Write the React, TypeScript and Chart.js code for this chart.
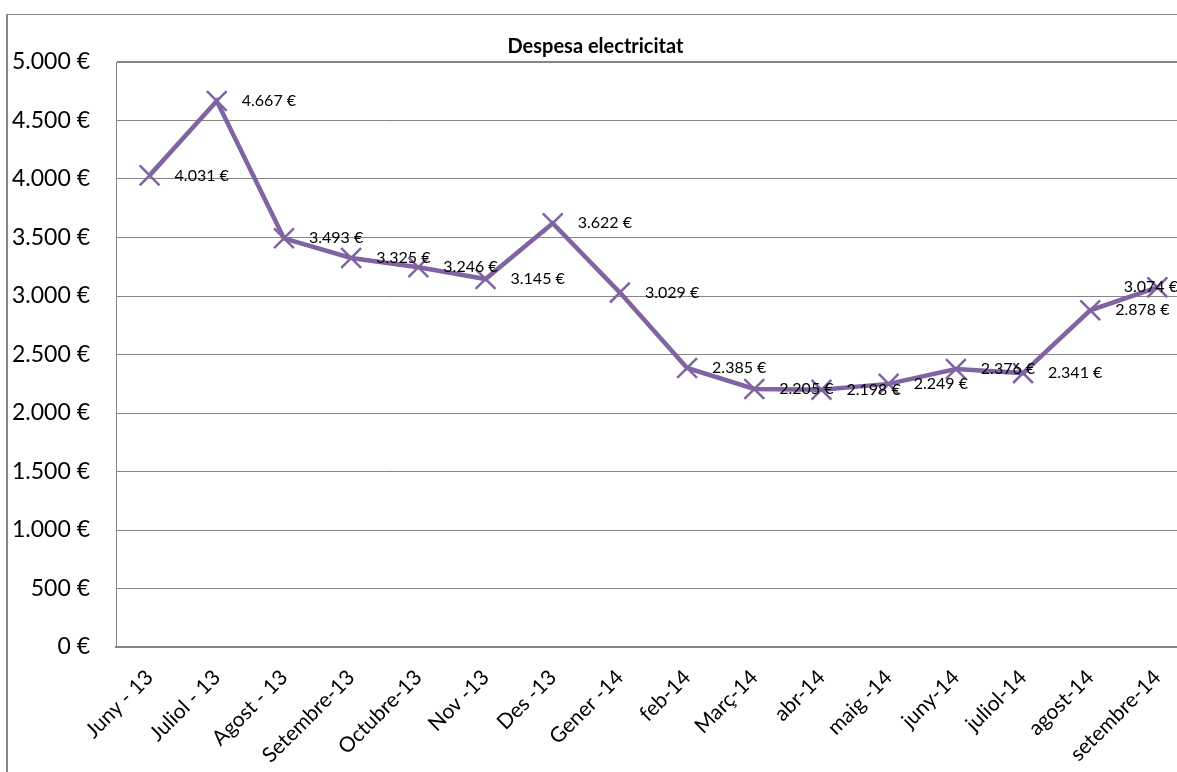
import React, { useEffect, useRef } from "react";
import { Chart, registerables } from "chart.js";

Chart.register(...registerables);

const title = "Despesa electricitat";
const categories = [
  "Juny - 13", "Juliol - 13", "Agost - 13", "Setembre-13", "Octubre-13", "Nov -13",
  "Des -13", "Gener -14", "feb-14", "Març-14", "abr-14", "maig -14",
  "juny-14", "juliol-14", "agost-14", "setembre-14",
];
const values = [4031, 4667, 3493, 3325, 3246, 3145, 3622, 3029, 2385, 2205, 2198, 2249, 2376, 2341, 2878, 3074];
const yMin = 0;
const yMax = 5000;
const yStep = 500;

const fmt = (v: number) => {
  const s = Math.round(v).toString().replace(/\B(?=(\d{3})+(?!\d))/g, ".");
  return s + " €";
};

const GRID = "#868686";
const LINE = "#8064A2";
const FONT = "Lato, 'Open Sans', sans-serif";

const frame = {
  id: "frame",
  beforeDraw(chart: any) {
    const ctx = chart.ctx;
    ctx.save();
    ctx.fillStyle = "#ffffff";
    ctx.fillRect(0, 0, chart.width, chart.height);
    ctx.fillStyle = GRID;
    ctx.fillRect(6, 14, 2, chart.height - 14);
    ctx.fillRect(6, 14, chart.width - 6, 1);
    ctx.restore();
  },
};

const dataLabels = {
  id: "dataLabels",
  afterDatasetsDraw(chart: any) {
    const ctx = chart.ctx;
    const meta = chart.getDatasetMeta(0);
    ctx.save();
    ctx.font = "16px " + FONT;
    ctx.fillStyle = "#000";
    ctx.textBaseline = "middle";
    ctx.textAlign = "left";
    const limit = 1178;
    meta.data.forEach((pt: any, i: number) => {
      const txt = fmt(values[i]);
      const w = ctx.measureText(txt).width;
      let x = pt.x + 25;
      if (x + w > limit) x = limit - w;
      ctx.fillText(txt, x, pt.y);
    });
    ctx.restore();
  },
};

export default function App() {
  const ref = useRef<HTMLCanvasElement | null>(null);
  useEffect(() => {
    if (!ref.current) return;
    const chart = new Chart(ref.current, {
      type: "line",
      data: {
        labels: categories,
        datasets: [
          {
            data: values,
            borderColor: LINE,
            backgroundColor: LINE,
            borderWidth: 4.5,
            pointStyle: "crossRot",
            pointRadius: 14,
            pointBorderWidth: 2.5,
            pointBorderColor: LINE,
            tension: 0,
          },
        ],
      },
      options: {
        responsive: false,
        animation: false,
        devicePixelRatio: 1,
        layout: { autoPadding: false, padding: { left: 0, right: 1, top: 0, bottom: 0 } },
        plugins: {
          legend: { display: false },
          tooltip: { enabled: false },
          title: {
            display: true,
            text: title,
            color: "#000",
            font: { family: FONT, size: 20, weight: "bold" },
            padding: { top: 35, bottom: 3 },
          },
        },
        scales: {
          x: {
            type: "category",
            offset: true,
            grid: { display: false, drawTicks: false },
            border: { display: true, color: GRID, width: 2 },
            ticks: {
              autoSkip: false,
              maxRotation: 45,
              minRotation: 45,
              color: "#000",
              padding: 18,
              font: { family: FONT, size: 21 },
            },
            afterFit: (s: any) => {
              s.height = 125;
              s.paddingLeft = 0;
              s.paddingRight = 0;
            },
          },
          y: {
            min: yMin,
            max: yMax,
            ticks: {
              stepSize: yStep,
              color: "#000",
              padding: 26,
              font: { family: FONT, size: 23 },
              callback: (v: any) => fmt(Number(v)),
            },
            grid: {
              color: GRID,
              drawTicks: false,
              lineWidth: (c: any) => (c.tick && (c.tick.value === yMax || c.tick.value === yMin) ? 2 : 1),
            },
            border: { display: true, color: GRID, width: 1 },
            afterFit: (s: any) => {
              s.width = 116;
            },
          },
        },
      },
      plugins: [frame, dataLabels],
    });
    return () => chart.destroy();
  }, []);
  return (
    <div style={{ position: "fixed", left: 0, top: 0, width: 1177, height: 772, overflow: "hidden", background: "#fff" }}>
      <canvas ref={ref} width={1192} height={772} style={{ position: "absolute", left: 0, top: 0 }} />
    </div>
  );
}
